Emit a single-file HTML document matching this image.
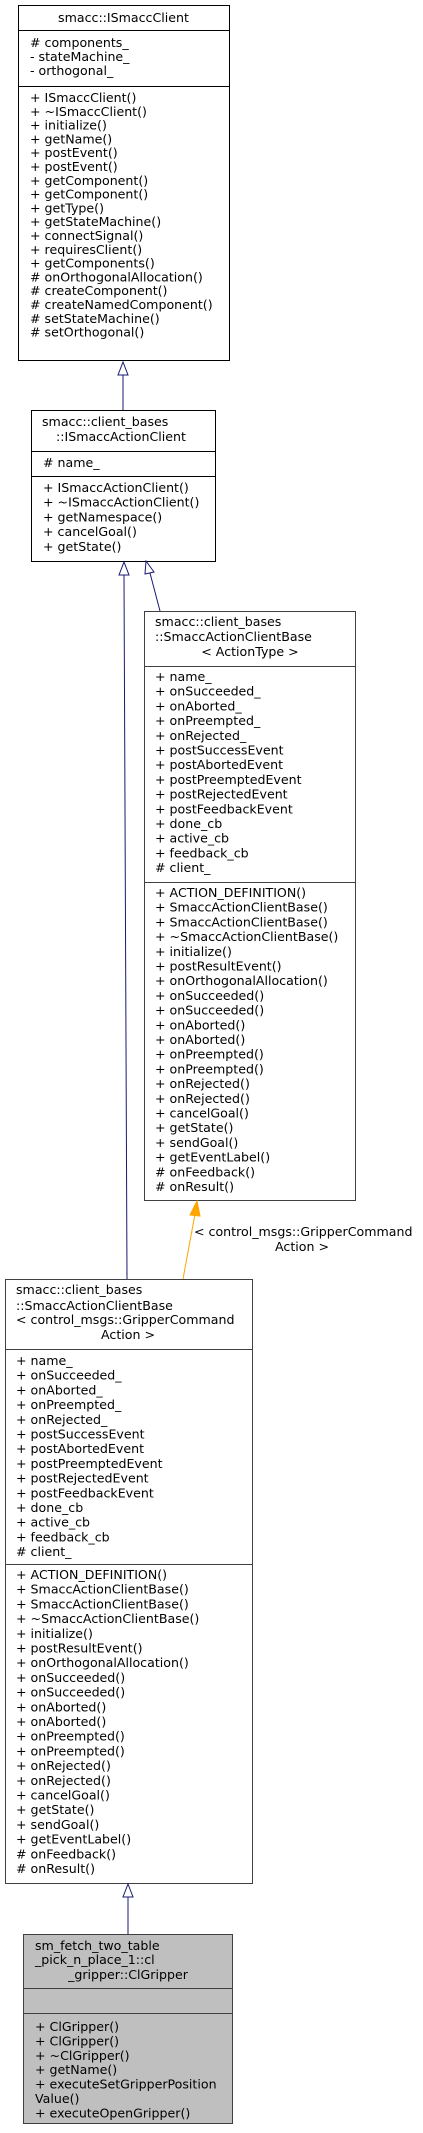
<!DOCTYPE html>
<html><head><meta charset="utf-8"><style>
html,body{margin:0;padding:0;background:#fff;}
svg{display:block}
text{font-family:"DejaVu Sans","Liberation Sans",sans-serif;font-size:12.6px;fill:#000}
</style></head><body>
<svg width="423" height="2133" viewBox="0 0 423 2133" xmlns="http://www.w3.org/2000/svg">
<!-- Box1 -->
<rect x="18.5" y="5.5" width="211" height="355" fill="#fff" stroke="#000"/>
<line x1="18" y1="30.5" x2="230" y2="30.5" stroke="#000"/>
<line x1="18" y1="86.5" x2="230" y2="86.5" stroke="#000"/>
<text x="123.5" y="22" text-anchor="middle">smacc::ISmaccClient</text>
<text x="30" y="47"># components_</text>
<text x="30" y="61">- stateMachine_</text>
<text x="30" y="75">- orthogonal_</text>
<g>
<text x="30" y="102">+ ISmaccClient()</text>
<text x="30" y="115.8">+ ~ISmaccClient()</text>
<text x="30" y="129.6">+ initialize()</text>
<text x="30" y="143.4">+ getName()</text>
<text x="30" y="157.2">+ postEvent()</text>
<text x="30" y="171">+ postEvent()</text>
<text x="30" y="184.8">+ getComponent()</text>
<text x="30" y="198.6">+ getComponent()</text>
<text x="30" y="212.4">+ getType()</text>
<text x="30" y="226.2">+ getStateMachine()</text>
<text x="30" y="240">+ connectSignal()</text>
<text x="30" y="253.8">+ requiresClient()</text>
<text x="30" y="267.6">+ getComponents()</text>
<text x="30" y="281.4"># onOrthogonalAllocation()</text>
<text x="30" y="295.2"># createComponent()</text>
<text x="30" y="309"># createNamedComponent()</text>
<text x="30" y="322.8"># setStateMachine()</text>
<text x="30" y="336.6"># setOrthogonal()</text>
</g>
<line x1="123" y1="375" x2="123" y2="410" stroke="#191970"/>
<polygon points="123,362 118,375 128,375" fill="#fff" stroke="#191970"/>

<!-- Box2 -->
<rect x="31.5" y="410.5" width="184" height="151" fill="#fff" stroke="#000"/>
<line x1="31" y1="451.5" x2="216" y2="451.5" stroke="#000"/>
<line x1="31" y1="476.5" x2="216" y2="476.5" stroke="#000"/>
<text x="42" y="426">smacc::client_bases</text>
<text x="56" y="441">::ISmaccActionClient</text>
<text x="43" y="467"># name_</text>
<text x="43" y="492">+ ISmaccActionClient()</text>
<text x="43" y="506.7">+ ~ISmaccActionClient()</text>
<text x="43" y="521.4">+ getNamespace()</text>
<text x="43" y="536.1">+ cancelGoal()</text>
<text x="43" y="550.8">+ getState()</text>

<line x1="124" y1="575" x2="127" y2="1279" stroke="#191970"/>
<polygon points="124,562 119,575 129,575" fill="#fff" stroke="#191970"/>
<line x1="150" y1="573" x2="160" y2="611" stroke="#191970"/>
<polygon points="146,561 145,574 154,572" fill="#fff" stroke="#191970"/>

<!-- Box3 -->
<rect x="144.5" y="611.5" width="211" height="589" fill="#fff" stroke="#404040"/>
<line x1="144" y1="666.5" x2="356" y2="666.5" stroke="#404040"/>
<line x1="144" y1="882.5" x2="356" y2="882.5" stroke="#404040"/>
<text x="155" y="626">smacc::client_bases</text>
<text x="155" y="641">::SmaccActionClientBase</text>
<text x="250" y="656" text-anchor="middle">&lt; ActionType &gt;</text>
<g>
<text x="155" y="681">+ name_</text>
<text x="155" y="695.7">+ onSucceeded_</text>
<text x="155" y="710.4">+ onAborted_</text>
<text x="155" y="725.1">+ onPreempted_</text>
<text x="155" y="739.8">+ onRejected_</text>
<text x="155" y="754.5">+ postSuccessEvent</text>
<text x="155" y="769.2">+ postAbortedEvent</text>
<text x="155" y="783.9">+ postPreemptedEvent</text>
<text x="155" y="798.6">+ postRejectedEvent</text>
<text x="155" y="813.3">+ postFeedbackEvent</text>
<text x="155" y="828">+ done_cb</text>
<text x="155" y="842.7">+ active_cb</text>
<text x="155" y="857.4">+ feedback_cb</text>
<text x="155" y="872.1"># client_</text>
</g>
<g>
<text x="155" y="897">+ ACTION_DEFINITION()</text>
<text x="155" y="911.7">+ SmaccActionClientBase()</text>
<text x="155" y="926.4">+ SmaccActionClientBase()</text>
<text x="155" y="941.1">+ ~SmaccActionClientBase()</text>
<text x="155" y="955.8">+ initialize()</text>
<text x="155" y="970.5">+ postResultEvent()</text>
<text x="155" y="985.2">+ onOrthogonalAllocation()</text>
<text x="155" y="999.9">+ onSucceeded()</text>
<text x="155" y="1014.6">+ onSucceeded()</text>
<text x="155" y="1029.3">+ onAborted()</text>
<text x="155" y="1044">+ onAborted()</text>
<text x="155" y="1058.7">+ onPreempted()</text>
<text x="155" y="1073.4">+ onPreempted()</text>
<text x="155" y="1088.1">+ onRejected()</text>
<text x="155" y="1102.8">+ onRejected()</text>
<text x="155" y="1117.5">+ cancelGoal()</text>
<text x="155" y="1132.2">+ getState()</text>
<text x="155" y="1146.9">+ sendGoal()</text>
<text x="155" y="1161.6">+ getEventLabel()</text>
<text x="155" y="1176.3"># onFeedback()</text>
<text x="155" y="1191"># onResult()</text>
</g>

<line x1="183" y1="1279" x2="195" y2="1214" stroke="#ffa500"/>
<polygon points="197,1201 190,1215 200,1216" fill="#ffa500" stroke="#ffa500"/>
<text x="194" y="1236">&lt; control_msgs::GripperCommand</text>
<text x="302" y="1251" text-anchor="middle">Action &gt;</text>

<!-- Box4 -->
<rect x="5.5" y="1279.5" width="247" height="604" fill="#fff" stroke="#404040"/>
<line x1="5" y1="1349.5" x2="253" y2="1349.5" stroke="#404040"/>
<line x1="5" y1="1564.5" x2="253" y2="1564.5" stroke="#404040"/>
<text x="16" y="1294">smacc::client_bases</text>
<text x="16" y="1310">::SmaccActionClientBase</text>
<text x="16" y="1324">&lt; control_msgs::GripperCommand</text>
<text x="128" y="1339" text-anchor="middle">Action &gt;</text>
<g>
<text x="16" y="1365">+ name_</text>
<text x="16" y="1379.7">+ onSucceeded_</text>
<text x="16" y="1394.4">+ onAborted_</text>
<text x="16" y="1409.1">+ onPreempted_</text>
<text x="16" y="1423.8">+ onRejected_</text>
<text x="16" y="1438.5">+ postSuccessEvent</text>
<text x="16" y="1453.2">+ postAbortedEvent</text>
<text x="16" y="1467.9">+ postPreemptedEvent</text>
<text x="16" y="1482.6">+ postRejectedEvent</text>
<text x="16" y="1497.3">+ postFeedbackEvent</text>
<text x="16" y="1512">+ done_cb</text>
<text x="16" y="1526.7">+ active_cb</text>
<text x="16" y="1541.4">+ feedback_cb</text>
<text x="16" y="1556.1"># client_</text>
</g>
<g>
<text x="16" y="1579">+ ACTION_DEFINITION()</text>
<text x="16" y="1593.7">+ SmaccActionClientBase()</text>
<text x="16" y="1608.4">+ SmaccActionClientBase()</text>
<text x="16" y="1623.1">+ ~SmaccActionClientBase()</text>
<text x="16" y="1637.8">+ initialize()</text>
<text x="16" y="1652.5">+ postResultEvent()</text>
<text x="16" y="1667.2">+ onOrthogonalAllocation()</text>
<text x="16" y="1681.9">+ onSucceeded()</text>
<text x="16" y="1696.6">+ onSucceeded()</text>
<text x="16" y="1711.3">+ onAborted()</text>
<text x="16" y="1726">+ onAborted()</text>
<text x="16" y="1740.7">+ onPreempted()</text>
<text x="16" y="1755.4">+ onPreempted()</text>
<text x="16" y="1770.1">+ onRejected()</text>
<text x="16" y="1784.8">+ onRejected()</text>
<text x="16" y="1799.5">+ cancelGoal()</text>
<text x="16" y="1814.2">+ getState()</text>
<text x="16" y="1828.9">+ sendGoal()</text>
<text x="16" y="1843.6">+ getEventLabel()</text>
<text x="16" y="1858.3"># onFeedback()</text>
<text x="16" y="1873"># onResult()</text>
</g>

<line x1="128" y1="1897" x2="128" y2="1934" stroke="#191970"/>
<polygon points="128,1884 123,1897 133,1897" fill="#fff" stroke="#191970"/>

<!-- Box5 -->
<rect x="23.5" y="1934.5" width="209" height="189" fill="#bfbfbf" stroke="#404040"/>
<line x1="23" y1="1988.5" x2="233" y2="1988.5" stroke="#404040"/>
<line x1="23" y1="2013.5" x2="233" y2="2013.5" stroke="#404040"/>
<text x="35" y="1950">sm_fetch_two_table</text>
<text x="35" y="1964">_pick_n_place_1::cl</text>
<text x="128" y="1979" text-anchor="middle">_gripper::ClGripper</text>
<text x="35" y="2031">+ ClGripper()</text>
<text x="35" y="2045.4">+ ClGripper()</text>
<text x="35" y="2059.8">+ ~ClGripper()</text>
<text x="35" y="2074.2">+ getName()</text>
<text x="35" y="2088.6">+ executeSetGripperPosition</text>
<text x="35" y="2103">Value()</text>
<text x="35" y="2117.4">+ executeOpenGripper()</text>
</svg>
</body></html>
